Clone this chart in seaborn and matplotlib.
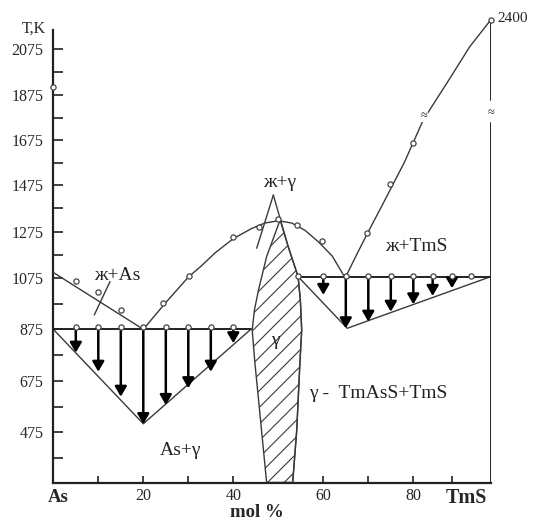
import numpy as np
import matplotlib
matplotlib.use("Agg")
import matplotlib.pyplot as plt
import seaborn as sns

# ---------------- data (mol % TmS, T in K) ----------------
# As-side liquidus
liq_as_x = [0, 20]
liq_as_T = [1100, 875]
liq_as_pts_x = [5, 10, 15]
liq_as_pts_T = [1066, 1020, 951]

# liquidus of gamma (dome)
dome_x = [20, 25, 30, 33, 36, 40, 44, 47, 50, 53, 56, 59, 62, 64.7]
dome_T = [875, 980, 1080, 1130, 1185, 1245, 1288, 1312, 1322, 1312, 1280, 1230, 1170, 1082]
dome_pts_x = [24.4, 30.2, 40, 45.8, 49.9, 54.1, 59.6]
dome_pts_T = [978, 1085, 1253, 1296, 1328, 1304, 1235]

# TmS-side liquidus
liq_tms_x = [65, 67.5, 70, 73, 78, 82.6, 88.6, 94.6, 100]
liq_tms_T = [1082, 1180, 1275, 1385, 1575, 1765, 1925, 2105, 2400]
liq_tms_pts_x = [69.6, 74.8, 80]
liq_tms_pts_T = [1268, 1478, 1663]

# gamma field (hatched)
gam_left_x = [50.4, 47.4, 45.6, 44.7, 44.2, 44.8, 45.9, 47.4]
gam_left_T = [1325, 1168, 1029, 951, 872, 744, 550, 280]
gam_right_x = [48.9, 52.2, 54.4, 54.9, 55.2, 54.8, 54.1, 53.2]
gam_right_T = [1432, 1211, 1082, 990, 872, 744, 484, 280]
apex_line_x = [48.9, 45.2]
apex_line_T = [1432, 1204]

# eutectic As + gamma
eut1_T = 875
eut1_x = [0, 43.9]
eut1_pts_x = [5, 10, 15, 20, 25, 30, 35, 40]
eut1_tip_T = [784, 710, 613, 507, 581, 646, 710, 821]
tri1_x = [0, 20, 43.9]
tri1_T = [875, 508, 875]

# eutectic gamma + TmS
eut2_T = 1082
eut2_x = [54.4, 100]
eut2_pts_x = [54.4, 60, 65, 70, 75, 80, 85, 90, 95]
eut2_arrow_x = [60, 65, 70, 75, 80, 85, 90]
eut2_tip_T = [1010, 879, 905, 944, 973, 1006, 1036]
tri2_x = [54.4, 65.3, 100]
tri2_T = [1082, 879, 1082]

# pure components
as_point_T = 1911
tms_melt_T = 2400

yticks = [475, 675, 875, 1075, 1275, 1475, 1675, 1875, 2075]
yminor = [375, 575, 775, 975, 1175, 1375, 1575, 1775, 1975]
xticks = [20, 40, 60, 80]
xminor = [10, 30, 50, 70, 90]

# uneven hand-drawn rulers of the original (value -> pixel)
y_ruler_val = [279, 475, 675, 875, 1075, 1275, 1475, 1675, 1875, 2075, 2400, 2511]
y_ruler_px = [482.7, 432.3, 380.7, 329.3, 278.3, 231.7, 185, 140, 95, 49.3, 20, 10]
x_ruler_val = [0, 80, 100]
x_ruler_px = [53.3, 413.3, 490.7]


def make_scale(vals, pos):
    vals = np.asarray(vals, float)
    pos = np.asarray(pos, float)

    def _map(v, a, b):
        v = np.asarray(v, float)
        out = np.interp(v, a, b)
        s0 = (b[1] - b[0]) / (a[1] - a[0])
        s1 = (b[-1] - b[-2]) / (a[-1] - a[-2])
        out = np.where(v < a[0], b[0] + (v - a[0]) * s0, out)
        out = np.where(v > a[-1], b[-1] + (v - a[-1]) * s1, out)
        return out

    return (lambda v: _map(v, vals, pos)), (lambda p: _map(p, pos, vals))


sns.set_style("white")
plt.rcParams["font.family"] = ["Liberation Serif", "DejaVu Serif", "DejaVu Sans"]
plt.rcParams["hatch.linewidth"] = 0.8
plt.rcParams["hatch.color"] = "#333333"

W, H = 536, 522
fig = plt.figure(figsize=(W / 100, H / 100), dpi=100)
x0, x1 = x_ruler_px[0], x_ruler_px[-1]
ytop, ybot = y_ruler_px[-1], y_ruler_px[0]
ax = fig.add_axes([x0 / W, 1 - ybot / H, (x1 - x0) / W, (ybot - ytop) / H])

fx, ix = make_scale(x_ruler_val, x_ruler_px)
fy, iy = make_scale(y_ruler_val, [-p for p in y_ruler_px])
ax.set_xscale("function", functions=(fx, ix))
ax.set_yscale("function", functions=(fy, iy))
ax.set_xlim(x_ruler_val[0], x_ruler_val[-1])
ax.set_ylim(y_ruler_val[0], y_ruler_val[-1])

LC = "#3a3a3a"
lw = 1.0

# hatched gamma field
poly_x = gam_left_x + gam_right_x[1:][::-1]
poly_T = gam_left_T + gam_right_T[1:][::-1]
ax.fill(poly_x, poly_T, facecolor="white", edgecolor=LC, hatch="//", lw=lw, zorder=2)
sns.lineplot(x=gam_right_x, y=gam_right_T, sort=False, estimator=None, color=LC, lw=lw, ax=ax, zorder=3)
sns.lineplot(x=apex_line_x, y=apex_line_T, sort=False, estimator=None, color=LC, lw=lw, ax=ax, zorder=3)

# liquidus lines
for xs, ts in [(liq_as_x, liq_as_T), (dome_x, dome_T), (liq_tms_x, liq_tms_T),
               (tri1_x, tri1_T), (tri2_x, tri2_T)]:
    sns.lineplot(x=xs, y=ts, sort=False, estimator=None, color=LC, lw=lw, ax=ax, zorder=3)

# eutectic horizontals
sns.lineplot(x=eut1_x, y=[eut1_T] * 2, sort=False, estimator=None, color="#222222", lw=1.4, ax=ax, zorder=3)
sns.lineplot(x=eut2_x, y=[eut2_T] * 2, sort=False, estimator=None, color="#222222", lw=1.4, ax=ax, zorder=3)

# arrows
astyle = "-|>,head_length=0.6,head_width=0.35"
for xv, tip in zip(eut1_pts_x, eut1_tip_T):
    ax.annotate("", xy=(xv, tip), xytext=(xv, eut1_T),
                arrowprops=dict(arrowstyle=astyle, color="black", lw=1.8,
                                shrinkA=0, shrinkB=0, mutation_scale=10), zorder=4)
for xv, tip in zip(eut2_arrow_x, eut2_tip_T):
    ax.annotate("", xy=(xv, tip), xytext=(xv, eut2_T),
                arrowprops=dict(arrowstyle=astyle, color="black", lw=1.8,
                                shrinkA=0, shrinkB=0, mutation_scale=10), zorder=4)

# experimental points
mk = dict(marker="o", s=14, facecolor="white", edgecolor="#444444", linewidth=0.9, zorder=6, ax=ax)
sns.scatterplot(x=liq_as_pts_x, y=liq_as_pts_T, **mk)
sns.scatterplot(x=dome_pts_x, y=dome_pts_T, **mk)
sns.scatterplot(x=liq_tms_pts_x, y=liq_tms_pts_T, **mk)
sns.scatterplot(x=eut1_pts_x, y=[eut1_T + 8] * len(eut1_pts_x), **mk)
sns.scatterplot(x=eut2_pts_x, y=[eut2_T + 4] * len(eut2_pts_x), **mk)
sns.scatterplot(x=[0], y=[as_point_T], clip_on=False, **mk)
sns.scatterplot(x=[100], y=[tms_melt_T], clip_on=False, **mk)

# right (TmS) vertical with axis break
sns.lineplot(x=[100, 100], y=[y_ruler_val[0], 1749], sort=False, estimator=None, color="#222222", lw=1.4, ax=ax, zorder=3)
sns.lineplot(x=[100, 100], y=[1853, tms_melt_T], sort=False, estimator=None, color="#222222", lw=1.4, ax=ax, zorder=3)
ax.text(100, 1795, "≈", ha="center", va="center", fontsize=9, zorder=7)
ax.text(82.8, 1783, "≈", ha="center", va="center", fontsize=9, zorder=7,
        bbox=dict(facecolor="white", edgecolor="none", pad=0.3))
ax.text(101.6, 2422, "2400", ha="left", va="center", fontsize=11)

# spines & ticks
for s in ["top", "right"]:
    ax.spines[s].set_visible(False)
ax.spines["left"].set_bounds(y_ruler_val[0], 2290)
ax.spines["left"].set_linewidth(1.6)
ax.spines["bottom"].set_linewidth(1.6)
ax.spines["left"].set_color("#222222")
ax.spines["bottom"].set_color("#222222")

ax.set_yticks(yticks)
ax.set_yticklabels([str(v) for v in yticks])
ax.set_yticks(yminor, minor=True)
ax.set_xticks(xticks)
ax.set_xticklabels([str(v) for v in xticks])
ax.set_xticks(xminor, minor=True)
ax.tick_params(axis="y", which="both", direction="in", length=7, width=1.3,
               color="#333333", pad=7, labelsize=11.5, left=True)
ax.tick_params(axis="x", which="both", direction="in", length=5, width=1.3,
               color="#333333", pad=4, labelsize=11.5, bottom=True)
ax.set_xlabel("")
ax.set_ylabel("")

# component and axis labels
ax.annotate("As", xy=(1.0, y_ruler_val[0]), xytext=(0, -4.5), textcoords="offset points",
            ha="center", va="top", fontsize=13.5, fontweight="bold", annotation_clip=False)
ax.annotate("TmS", xy=(93.7, y_ruler_val[0]), xytext=(0, -4), textcoords="offset points",
            ha="center", va="top", fontsize=14.5, fontweight="bold", annotation_clip=False)
fig.text(257 / W, 1 - 512.5 / H, "mol %", ha="center", va="center", fontsize=13.5, fontweight="bold")
ax.text(-4.3, 2300, "T,K", ha="center", va="center", fontsize=11.5)

# phase region labels
lab = dict(ha="center", va="center", fontsize=14, color="#222222")
ax.text(14.2, 1085, "ж+As", **lab)
ax.text(28.2, 404, "As+γ", **lab)
ax.text(50.2, 1484, "ж+γ", **lab)
ax.text(49.3, 833, "γ", **lab)
ax.text(80.7, 1211, "ж+TmS", **lab)
ax.text(56.8, 626, "γ -  TmAsS+TmS", ha="left", va="center", fontsize=14, color="#222222")
sns.lineplot(x=[9.1, 12.6], y=[931, 1062], sort=False, estimator=None, color=LC, lw=lw, ax=ax)

fig.savefig("out.png", dpi=100, facecolor="white")
